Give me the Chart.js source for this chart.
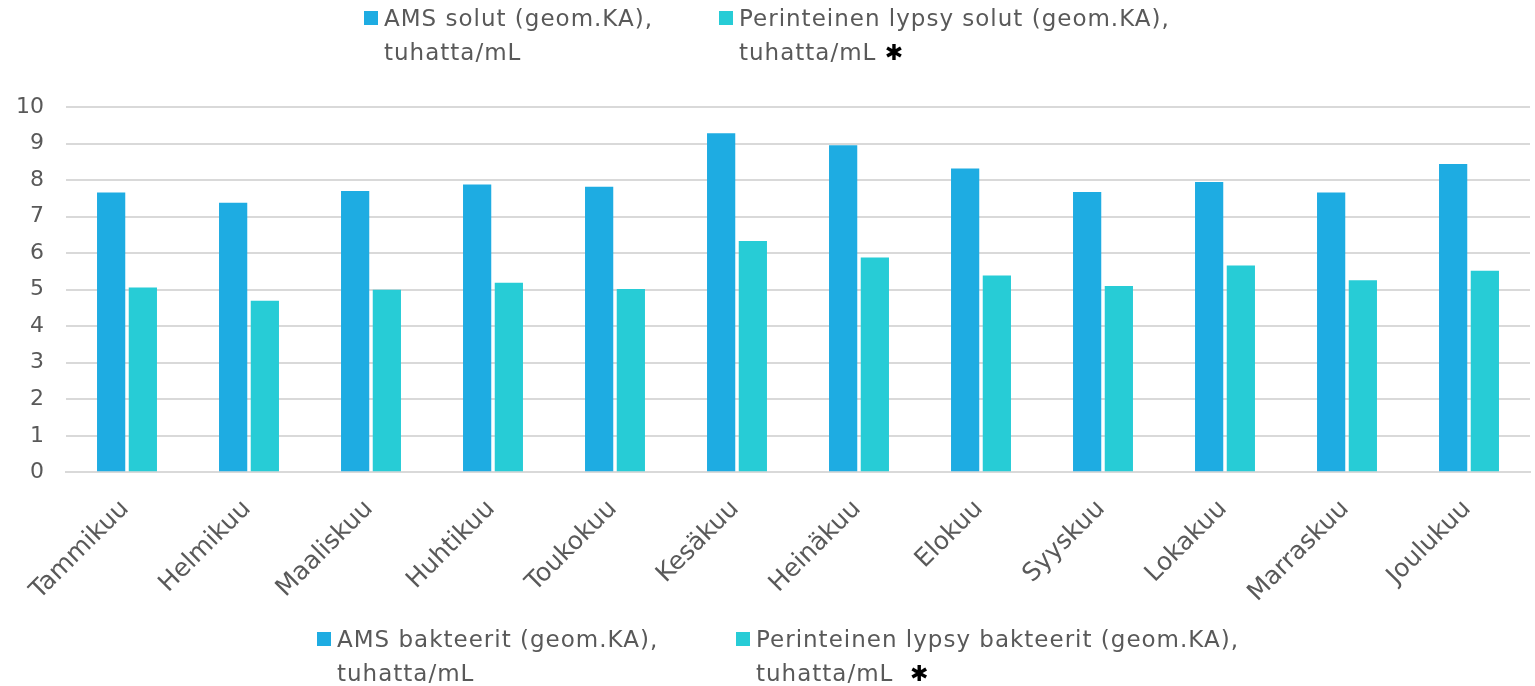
<!DOCTYPE html>
<html>
<head>
<meta charset="utf-8">
<script src="https://cdn.jsdelivr.net/npm/chart.js@4.4.0/dist/chart.umd.min.js"></script>
<style>
  html, body { margin: 0; padding: 0; background: #fff; }
  #wrap { position: relative; width: 1535px; height: 686px; }
  canvas { position: absolute; left: 0; top: 0; }
  .leg { position: absolute; font-family: "DejaVu Sans", sans-serif; font-size: 23px; letter-spacing: 1px; line-height: 34px; color: #595959; white-space: nowrap; }
  .leg .sq { position: absolute; left: -20px; top: 10px; width: 14px; height: 14px; }
  .leg b { color: #000; font-size: 22px; }
</style>
</head>
<body>
<div id="wrap">
  <canvas id="chart" width="1535" height="686"></canvas>
</div>
<script>
const months = ['Tammikuu', 'Helmikuu', 'Maaliskuu', 'Huhtikuu', 'Toukokuu', 'Kesäkuu',
                'Heinäkuu', 'Elokuu', 'Syyskuu', 'Lokakuu', 'Marraskuu', 'Joulukuu'];
const amsValues = [7.66, 7.38, 7.70, 7.88, 7.82, 9.28, 8.95, 8.32, 7.67, 7.95, 7.66, 8.44];
const perinteinenValues = [5.06, 4.70, 5.00, 5.19, 5.02, 6.33, 5.88, 5.39, 5.10, 5.66, 5.26, 5.52];
const yTicks = [0, 1, 2, 3, 4, 5, 6, 7, 8, 9, 10];

const topLegend = ['AMS solut (geom.KA),<br>tuhatta/mL',
                   'Perinteinen lypsy solut (geom.KA),<br>tuhatta/mL <b>✱</b>'];
const bottomLegend = ['AMS bakteerit (geom.KA),<br>tuhatta/mL',
                      'Perinteinen lypsy bakteerit (geom.KA),<br>tuhatta/mL &nbsp;<b>✱</b>'];
const colors = ['#1EACE2', '#27CCD6'];

// legends are plain html text around the canvas
const wrap = document.getElementById('wrap');
function addLegend(text, color, x, y) {
  const d = document.createElement('div');
  d.className = 'leg';
  d.style.left = x + 'px';
  d.style.top = y + 'px';
  d.innerHTML = '<span class="sq" style="background:' + color + '"></span>' + text;
  wrap.appendChild(d);
}
addLegend(topLegend[0], colors[0], 384, 1);
addLegend(topLegend[1], colors[1], 739, 1);
addLegend(bottomLegend[0], colors[0], 337, 622);
addLegend(bottomLegend[1], colors[1], 756, 622);

const ctx = document.getElementById('chart').getContext('2d');
const chart = new Chart(ctx, {
    type: 'bar',
    data: {
        labels: months,
        datasets: [{
            label: 'AMS',
            data: amsValues,
            backgroundColor: colors[0],
            categoryPercentage: 0.52,
            barPercentage: 0.89
        }, {
            label: 'Perinteinen lypsy',
            data: perinteinenValues,
            backgroundColor: colors[1],
            categoryPercentage: 0.52,
            barPercentage: 0.89
        }]
    },
    options: {
        responsive: false,
        animation: false,
        layout: { padding: { top: 107, bottom: 64, left: 2, right: 5 } },
        plugins: { legend: { display: false }, tooltip: { enabled: false } },
        scales: {
            x: {
                grid: { display: false },
                border: { color: '#d9d9d9', width: 2 },
                ticks: {
                    color: '#595959',
                    padding: 14,
                    font: { family: 'DejaVu Sans', size: 25 },
                    maxRotation: 45, minRotation: 45,
                    labelOffset: -2
                }
            },
            y: {
                min: 0, max: 10,
                afterBuildTicks: (axis) => { axis.ticks = yTicks.map(v => ({ value: v })); },
                afterFit: (axis) => { axis.width = 64; },
                grid: { color: '#d9d9d9', lineWidth: 2, drawTicks: false },
                border: { display: false },
                ticks: {
                    color: '#595959',
                    padding: 22,
                    font: { family: 'DejaVu Sans', size: 22 }
                }
            }
        }
    }
});
</script>
</body>
</html>
